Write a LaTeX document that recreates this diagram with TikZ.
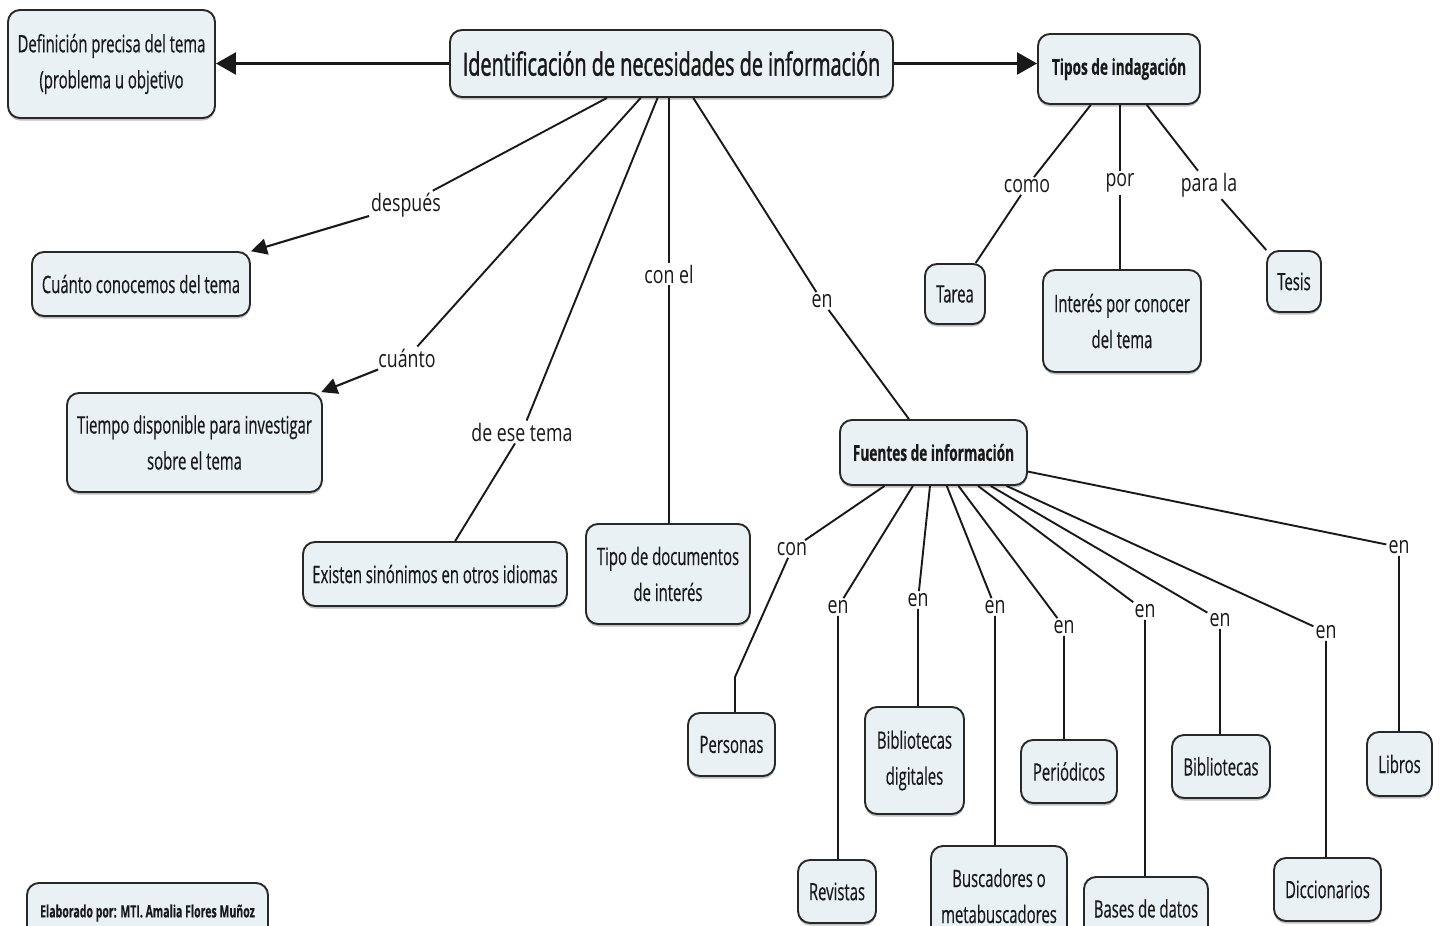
\documentclass[tikz,border=0pt]{standalone}
\usepackage{fontspec}
\newfontfamily\cmapbox{Open Sans}[FakeStretch=0.62, FakeBold=0.4]
\newfontfamily\cmaptitle{Open Sans}[FakeStretch=0.62, FakeBold=1.2]
\newfontfamily\cmaplbl{Open Sans}[FakeStretch=0.74]
\usetikzlibrary{arrows.meta,shadows}
\definecolor{boxfill}{RGB}{234,241,245}
\definecolor{boxline}{RGB}{40,40,40}
\definecolor{ink}{RGB}{25,25,25}
\tikzset{
  concept/.style={draw=boxline, line width=1.9pt, fill=boxfill, rounded corners=12pt,
    align=center, text=ink, inner sep=0pt,
    font=\cmapbox\fontsize{24}{36}\selectfont,
    drop shadow={shadow xshift=0pt, shadow yshift=-2.5pt, opacity=0.25, fill=black}},
  boldconcept/.style={concept, font=\cmapbox\bfseries\fontsize{22}{30}\selectfont},
  linkword/.style={text=ink, inner sep=2pt, font=\cmaplbl\fontsize{24}{28}\selectfont},
  conn/.style={draw=ink, line width=1.9pt},
  bigarr/.style={conn, line width=2.3pt, -{Triangle[length=20pt,width=22pt]}},
  smallarr/.style={conn, line width=2.1pt, -{Triangle[length=16pt,width=16pt]}},
}
\begin{document}
\begin{tikzpicture}[x=1pt,y=-1pt]
\clip (0,0) rectangle (1440,926);
\fill[white] (0,0) rectangle (1440,926);

% concepts
\node[concept, minimum width=207pt, minimum height=108pt] (def) at (111.5,64) {Definición precisa del tema\\(problema u objetivo};
\node[concept, minimum width=443pt, minimum height=67pt, font=\cmaptitle\fontsize{32}{36}\selectfont] (main) at (671.5,63.5) {Identificación de necesidades de información};
\node[boldconcept, minimum width=162pt, minimum height=70pt] (tipos) at (1119,69) {Tipos de indagación};
\node[concept, minimum width=218pt, minimum height=64pt] (cuanto) at (141,284) {Cuánto conocemos del tema};
\node[concept, minimum width=255pt, minimum height=99pt] (tiempo) at (194.5,442.5) {Tiempo disponible para investigar\\sobre el tema};
\node[concept, minimum width=264pt, minimum height=64pt] (existen) at (435,574) {Existen sinónimos en otros idiomas};
\node[concept, minimum width=164pt, minimum height=100pt] (tipodoc) at (668,574) {Tipo de documentos\\de interés};
\node[concept, minimum width=60pt, minimum height=60pt] (tarea) at (955,294) {Tarea};
\node[concept, minimum width=158pt, minimum height=102pt] (interes) at (1122,321) {Interés por conocer\\del tema};
\node[concept, minimum width=54pt, minimum height=61pt] (tesis) at (1294,281.5) {Tesis};
\node[boldconcept, minimum width=187pt, minimum height=65pt] (fuentes) at (933.5,452.5) {Fuentes de información};
\node[concept, minimum width=87pt, minimum height=63pt] (personas) at (731.5,744.5) {Personas};
\node[concept, minimum width=78pt, minimum height=63pt] (revistas) at (837,891.5) {Revistas};
\node[concept, minimum width=99pt, minimum height=107pt] (bibdig) at (914.5,760.5) {Bibliotecas\\digitales};
\node[concept, minimum width=136pt, minimum height=100pt] (buscadores) at (999,896) {Buscadores o\\metabuscadores};
\node[concept, minimum width=96pt, minimum height=63pt] (periodicos) at (1069,771.5) {Periódicos};
\node[concept, minimum width=124pt, minimum height=63pt] (bases) at (1146,908.5) {Bases de datos};
\node[concept, minimum width=98pt, minimum height=63pt] (bibliotecas) at (1221,766.5) {Bibliotecas};
\node[concept, minimum width=107pt, minimum height=63pt] (diccionarios) at (1327.5,889.5) {Diccionarios};
\node[concept, minimum width=65pt, minimum height=64pt] (libros) at (1399.5,764) {Libros};
\node[concept, minimum width=241pt, minimum height=60pt, font=\cmapbox\bfseries\fontsize{17}{22}\selectfont] (elaborado) at (147.5,913) {Elaborado por: MTI. Amalia Flores Muñoz};

% linking words
\node[linkword] (despues) at (406,205) {después};
\node[linkword] (cuantol) at (407,358) {cuánto};
\node[linkword] (deese) at (522,432) {de ese tema};
\node[linkword] (conel) at (669,274) {con el};
\node[linkword] (en0) at (822,301) {en};
\node[linkword] (como) at (1027,186) {como};
\node[linkword] (por) at (1120,183) {por};
\node[linkword] (parala) at (1209,185) {para la};
\node[linkword] (con) at (792,549) {con};
\node[linkword] (en1) at (838,607) {en};
\node[linkword] (en2) at (918,600) {en};
\node[linkword] (en3) at (995,607) {en};
\node[linkword] (en4) at (1064,627) {en};
\node[linkword] (en5) at (1145,611) {en};
\node[linkword] (en6) at (1220,620) {en};
\node[linkword] (en7) at (1326,632) {en};
\node[linkword] (en8) at (1399,547) {en};

% connectors
\draw[bigarr] (main.west) -- (main.west -| def.east);
\draw[bigarr] (main.east) -- (main.east -| tipos.west);
\draw[conn] (main) -- (despues);
\draw[smallarr] (despues) -- (cuanto);
\draw[conn] (main) -- (cuantol);
\draw[smallarr] (cuantol) -- (tiempo);
\draw[conn] (main) -- (deese) -- (existen);
\draw[conn] (main.south -| conel) -- (conel) -- (conel |- tipodoc.north);
\draw[conn] (main) -- (en0) -- (fuentes);

\draw[conn] (tipos) -- (como) -- (tarea);
\draw[conn] (tipos.south -| por) -- (por) -- (por |- interes.north);
\draw[conn] (tipos) -- (parala) -- (tesis);

\coordinate (pbend) at (735,677);
\draw[conn] (fuentes) -- (con) -- (pbend) -- (pbend |- personas.north);
\draw[conn] (fuentes) -- (en1) -- (en1 |- revistas.north);
\draw[conn] (fuentes) -- (en2) -- (en2 |- bibdig.north);
\draw[conn] (fuentes) -- (en3) -- (en3 |- buscadores.north);
\draw[conn] (fuentes) -- (en4) -- (en4 |- periodicos.north);
\draw[conn] (fuentes) -- (en5) -- (en5 |- bases.north);
\draw[conn] (fuentes) -- (en6) -- (en6 |- bibliotecas.north);
\draw[conn] (fuentes) -- (en7) -- (en7 |- diccionarios.north);
\draw[conn] (fuentes) -- (en8) -- (en8 |- libros.north);
\end{tikzpicture}
\end{document}
